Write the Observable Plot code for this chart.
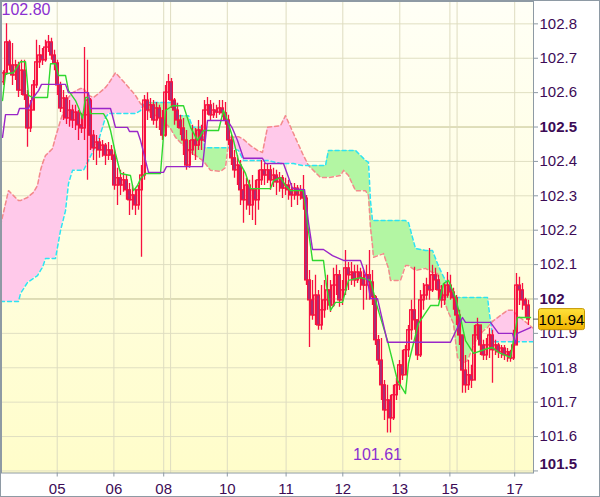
<!DOCTYPE html>
<html><head><meta charset="utf-8">
<script src="https://cdn.jsdelivr.net/npm/d3@7"></script>
<script src="https://cdn.jsdelivr.net/npm/@observablehq/plot@0.6"></script>
<style>
html,body{margin:0;padding:0;background:#fff;}
svg{display:block;}
</style></head><body><div id="chart"></div>
<script>
// ---- candle data (one value per bar) ----
const firstOpen = 102.630;
const close = [
102.656,102.746,102.679,102.650,102.679,102.606,102.664,102.592,102.496,102.548,
102.621,102.688,102.708,102.694,102.731,102.746,102.708,102.685,102.621,102.554,
102.583,102.525,102.548,102.519,102.542,102.505,102.496,102.534,102.577,102.475,
102.438,102.455,102.432,102.446,102.417,102.432,102.417,102.330,102.351,102.330,
102.345,102.316,102.287,102.301,102.272,102.316,102.359,102.577,102.548,102.563,
102.519,102.554,102.525,102.475,102.600,102.630,102.577,102.548,102.519,102.496,
102.461,102.388,102.432,102.461,102.446,102.490,102.461,102.548,102.563,102.534,
102.548,102.542,102.554,102.540,102.519,102.461,102.409,102.374,102.388,102.316,
102.287,102.330,102.272,102.316,102.287,102.345,102.374,102.359,102.374,102.345,
102.359,102.339,102.351,102.321,102.330,102.316,102.301,102.321,102.301,102.316,
102.292,102.054,101.996,101.952,102.010,101.923,101.967,101.996,102.025,101.981,
102.039,102.069,101.996,102.025,102.089,102.069,102.077,102.054,102.077,102.060,
102.039,102.069,102.048,102.005,101.880,101.821,101.749,101.676,101.705,101.653,
101.720,101.749,101.807,101.778,101.851,101.909,101.967,101.938,101.836,101.996,
102.010,102.039,102.025,102.069,102.054,102.025,101.996,102.010,102.039,102.019,
102.002,101.952,101.894,101.792,101.749,101.778,101.763,101.894,101.923,101.865,
101.836,101.865,101.894,101.851,101.865,101.845,101.856,101.836,101.845,101.827,
101.865,102.039,102.025,101.996,101.981,101.940];
const high = [
102.664,102.800,102.752,102.743,102.694,102.688,102.694,102.694,102.606,102.577,
102.635,102.752,102.737,102.728,102.752,102.766,102.758,102.723,102.694,102.630,
102.606,102.592,102.577,102.563,102.563,102.548,102.540,102.731,102.694,102.583,
102.490,102.475,102.467,102.461,102.452,102.455,102.446,102.432,102.380,102.374,
102.368,102.359,102.336,102.330,102.321,102.330,102.388,102.592,102.600,102.583,
102.577,102.571,102.563,102.548,102.621,102.653,102.641,102.583,102.569,102.534,
102.525,102.490,102.461,102.505,102.496,102.519,102.505,102.577,102.586,102.577,
102.569,102.563,102.577,102.577,102.571,102.534,102.475,102.432,102.417,102.403,
102.374,102.351,102.345,102.359,102.345,102.374,102.403,102.394,102.394,102.388,
102.380,102.374,102.368,102.359,102.351,102.345,102.336,102.336,102.330,102.330,
102.359,102.301,102.083,102.054,102.069,102.025,102.039,102.054,102.069,102.054,
102.089,102.098,102.083,102.054,102.141,102.106,102.106,102.098,102.098,102.089,
102.083,102.098,102.141,102.083,102.010,101.894,101.885,101.763,101.749,101.720,
101.749,101.769,101.821,101.851,101.865,101.923,101.996,102.092,101.938,102.025,
102.045,102.060,102.147,102.098,102.089,102.069,102.039,102.045,102.077,102.069,
102.031,102.010,101.967,101.894,101.836,101.821,101.807,101.923,101.944,101.923,
101.880,101.885,101.915,101.909,101.880,101.871,101.865,101.865,101.856,101.851,
101.909,102.074,102.063,102.045,102.002,101.996];
const low = [
102.621,102.650,102.664,102.621,102.635,102.586,102.592,102.577,102.441,102.484,
102.548,102.612,102.670,102.679,102.688,102.717,102.694,102.664,102.592,102.542,
102.519,102.507,102.499,102.496,102.490,102.461,102.481,102.461,102.345,102.432,
102.403,102.388,102.409,102.412,102.388,102.403,102.403,102.316,102.272,102.301,
102.310,102.287,102.243,102.258,102.243,102.258,102.121,102.345,102.519,102.525,
102.505,102.496,102.490,102.461,102.470,102.577,102.554,102.505,102.496,102.475,
102.417,102.374,102.380,102.417,102.403,102.432,102.432,102.455,102.534,102.519,
102.525,102.525,102.534,102.528,102.505,102.446,102.388,102.351,102.330,102.272,
102.220,102.258,102.243,102.228,102.214,102.258,102.330,102.330,102.336,102.316,
102.324,102.301,102.310,102.292,102.301,102.287,102.266,102.287,102.272,102.287,
102.258,102.039,101.859,101.938,101.923,101.909,101.909,101.944,101.967,101.961,
101.975,102.010,101.976,101.981,102.010,102.025,102.039,102.034,102.045,102.025,
101.967,101.996,101.996,101.981,101.865,101.807,101.705,101.647,101.610,101.610,
101.647,101.705,101.734,101.763,101.787,101.830,101.880,101.909,101.821,101.830,
101.967,101.996,101.996,102.019,102.025,101.996,101.973,101.981,102.002,101.996,
101.967,101.923,101.865,101.726,101.726,101.734,101.740,101.763,101.880,101.836,
101.821,101.821,101.827,101.755,101.836,101.827,101.827,101.821,101.816,101.816,
101.821,101.865,101.981,101.967,101.944,101.923];

// ---- conversion line (green) and base line (purple): [bar index, price] ----
const tenkan = [[-0.33,102.577],[0.67,102.655],[3.33,102.658],[5.67,102.690],[7.33,102.690],[8.33,102.592],[9.67,102.586],[14.67,102.586],[15.67,102.684],[17.33,102.684],[18.33,102.650],[20.67,102.650],[21.67,102.606],[24,102.577],[25,102.557],[26.33,102.525],[27.33,102.586],[28.33,102.586],[29,102.539],[33.33,102.539],[34.67,102.519],[35.67,102.490],[37.33,102.423],[39,102.365],[42.33,102.359],[43.33,102.315],[44.67,102.330],[45.67,102.350],[47.33,102.365],[52.33,102.365],[54,102.548],[56.33,102.562],[60,102.562],[62.33,102.499],[64.67,102.461],[65.67,102.475],[66.67,102.490],[71.67,102.490],[73.33,102.548],[74.67,102.519],[76.67,102.461],[78.33,102.403],[80.67,102.365],[82.33,102.321],[89,102.321],[90,102.344],[92.33,102.353],[94,102.330],[95.67,102.315],[100,102.315],[101.33,102.219],[103,102.112],[106.67,102.112],[107.67,102.039],[109,101.967],[110.67,101.990],[113,101.990],[115,102.054],[119,102.062],[122.33,102.054],[124.67,101.975],[128,101.879],[131.33,101.763],[134,101.725],[135,101.813],[138.33,101.929],[142.33,101.981],[145,101.981],[146.67,102.045],[148.33,102.054],[150.67,102.004],[152.33,101.946],[154,101.879],[156.67,101.842],[161.33,101.856],[163,101.859],[165,101.845],[169,101.830],[170,101.879],[171.33,101.946],[175.67,101.946]];
const kijun = [[-0.33,102.470],[0.67,102.536],[4.67,102.536],[5.33,102.554],[8.33,102.554],[9.67,102.583],[11.67,102.606],[12.67,102.624],[20.67,102.624],[21.67,102.600],[28.33,102.600],[29,102.554],[35.67,102.554],[37.33,102.499],[41.33,102.499],[42,102.487],[44.67,102.487],[45.67,102.461],[48.33,102.368],[53.33,102.368],[54.33,102.385],[66.33,102.385],[68,102.519],[74.67,102.519],[76.33,102.496],[78,102.461],[80,102.409],[86.33,102.409],[87.33,102.394],[93.33,102.394],[96.33,102.321],[100.33,102.318],[101.67,102.222],[103,102.144],[106.67,102.144],[109.67,102.126],[113.33,102.112],[119,102.112],[121.33,102.054],[122.33,102.001],[124.67,102.001],[128,101.874],[149,101.874],[151.67,101.923],[153,101.946],[154,101.932],[162.33,101.932],[165,101.900],[169.67,101.900],[170.67,101.871],[171.33,101.900],[175.67,101.917]];

// ---- cloud: [bar index, span A (red dashed), span B (cyan dashed)] ----
const cloud = [[-1,102.214,101.993],[1.67,102.315,101.993],[5,102.286,101.993],[5.67,102.286,102.016],[8,102.295,102.048],[10,102.310,102.060],[11.33,102.330,102.068],[12.33,102.374,102.083],[13,102.394,102.092],[14,102.417,102.118],[16.33,102.437,102.118],[17.33,102.470,102.118],[19,102.519,102.199],[20.67,102.562,102.257],[21.67,102.586,102.336],[23,102.600,102.374],[25.67,102.612,102.374],[26.67,102.612,102.374],[28.33,102.592,102.403],[30,102.586,102.432],[31.67,102.597,102.461],[34,102.615,102.528],[35,102.626,102.539],[37.33,102.658,102.539],[40.67,102.626,102.539],[44,102.592,102.539],[45.67,102.568,102.548],[46.67,102.560,102.565],[48,102.548,102.571],[52.33,102.525,102.571],[55.67,102.496,102.571],[57.33,102.470,102.571],[58.33,102.461,102.533],[61.67,102.432,102.533],[63,102.423,102.499],[66.33,102.403,102.499],[67,102.397,102.440],[69,102.374,102.440],[72.33,102.371,102.440],[74,102.382,102.440],[74.67,102.432,102.440],[75.67,102.470,102.440],[78.33,102.472,102.432],[80,102.464,102.403],[82.33,102.446,102.403],[84.67,102.432,102.403],[86.33,102.426,102.403],[88,102.499,102.403],[92.33,102.504,102.394],[94,102.533,102.394],[96.67,102.481,102.394],[99.67,102.423,102.388],[101.67,102.388,102.388],[105.67,102.353,102.388],[107.33,102.353,102.388],[108.33,102.353,102.432],[112.33,102.359,102.432],[113.33,102.374,102.432],[115,102.359,102.432],[117.33,102.315,102.432],[120.67,102.315,102.403],[121.67,102.301,102.397],[122.33,102.208,102.286],[123,102.155,102.228],[123.33,102.121,102.228],[126.67,102.132,102.228],[128.33,102.089,102.228],[129,102.054,102.228],[132.33,102.054,102.228],[134,102.097,102.228],[135,102.097,102.222],[137.33,102.083,102.147],[140.67,102.089,102.141],[143,102.077,102.141],[144.67,102.074,102.103],[145.67,102.039,102.083],[146.67,102.004,102.065],[148,101.967,102.045],[150,101.929,102.004],[151.33,101.830,102.004],[153,101.813,102.004],[154.67,101.821,102.004],[156.33,101.859,102.004],[158,101.888,102.004],[160,101.908,102.004],[161.33,101.917,102.004],[162.33,101.929,101.935],[163.33,101.937,101.876],[165.67,101.952,101.876],[168,101.967,101.876],[169.67,101.967,101.876],[171.33,101.952,101.876],[174.67,101.929,101.876],[176.67,101.914,101.876]];

// ---- axes ----
const dayTickIdx = [17.9, 36.8, 53.4, 74.6, 94.2, 113.1, 132.1, 148.8, 170.4];
const dayTickLabels = ["05","06","08","10","11","12","13","15","17"];
const weekGridIdx = [55.7, 151.2];
const priceTicks = [101.5,101.6,101.7,101.8,101.9,102,102.1,102.2,102.3,102.4,102.5,102.6,102.7,102.8];
const boldTicks = [102, 102.5];
const bottomTick = [101.5];

const candles = close.map((c, i) => ({i, open: i === 0 ? firstOpen : close[i-1], close: c, high: high[i], low: low[i]}));
const dayLabel = new Map(dayTickIdx.map((d, k) => [d, dayTickLabels[k]]));
const normalTicks = priceTicks.filter(t => !boldTicks.includes(t) && !bottomTick.includes(t));
const maxHigh = d3.max(high);
const minBar = candles[d3.minIndex(candles, d => d.low)];
const lastClose = close[close.length - 1];

const RED = "#f7103f", LBL = "#3c0b56", AX = "#8e9aa4";

const chart = Plot.plot({
  width: 600, height: 497,
  marginTop: 1, marginBottom: 24.5, marginLeft: 1, marginRight: 67,
  style: {fontFamily: "'Liberation Sans', Arial, sans-serif", fontSize: "15px", background: "#fff"},
  x: {domain: [-0.67, 176.67], label: null},
  y: {domain: [101.494, 102.865], label: null},
  marks: [
    Plot.frame({fill: "url(#bgGrad)", stroke: "none"}),
    Plot.gridY(priceTicks, {stroke: "#e0dfc2", strokeOpacity: 1}),
    Plot.gridY(boldTicks, {stroke: "#cfcd9e", strokeOpacity: 1}),
    Plot.gridX([...dayTickIdx, ...weekGridIdx], {stroke: "#dedcc0", strokeOpacity: 1}),
    Plot.areaY(cloud, {x: d => d[0], y1: d => d[2], y2: d => Math.max(d[1], d[2]), fill: "#ffc9ea", clip: true}),
    Plot.areaY(cloud, {x: d => d[0], y1: d => d[1], y2: d => Math.max(d[1], d[2]), fill: "#b3f6a3", clip: true}),
    Plot.line(cloud, {x: d => d[0], y: d => d[1], stroke: "#f38a8a", strokeWidth: 1.5, strokeDasharray: "4,3", clip: true}),
    Plot.line(cloud, {x: d => d[0], y: d => d[2], stroke: "#2ee3f2", strokeWidth: 1.5, strokeDasharray: "4,3", clip: true}),
    Plot.ruleX(candles, {x: "i", y1: d => Math.min(d.low, d.open, d.close), y2: d => Math.max(d.high, d.open, d.close), stroke: RED, strokeWidth: 1.3, clip: true}),
    Plot.rect(candles.filter(d => d.close >= d.open), {x1: d => d.i - 0.45, x2: d => d.i + 0.45, y1: "open", y2: "close", fill: "none", stroke: RED, strokeWidth: 1.3, clip: true}),
    Plot.rect(candles.filter(d => d.close < d.open), {x1: d => d.i - 0.45, x2: d => d.i + 0.45, y1: "open", y2: "close", fill: "#8a3a8c", stroke: RED, strokeWidth: 1.3, clip: true}),
    Plot.line(tenkan, {x: d => d[0], y: d => d[1], stroke: "#2fd82f", strokeWidth: 1.4, clip: true}),
    Plot.line(kijun, {x: d => d[0], y: d => d[1], stroke: "#9a26c8", strokeWidth: 1.4, clip: true}),
    Plot.text([maxHigh], {frameAnchor: "top-left", text: d => d.toFixed(2), dx: 0, dy: 2, fill: "#8b2fd0", fontSize: 16}),
    Plot.text([minBar], {x: "i", y: "low", text: d => d.low.toFixed(2), dx: -10, dy: 22, fill: "#8b2fd0", fontSize: 16}),
    Plot.frame({stroke: AX}),
    Plot.axisY(normalTicks, {anchor: "right", tickSize: 4, tickPadding: 2, stroke: AX, fill: LBL, fontSize: 15, tickFormat: d => String(d)}),
    Plot.axisY(boldTicks, {anchor: "right", tickSize: 4, tickPadding: 2, stroke: AX, fill: LBL, fontSize: 15, fontWeight: "bold", tickFormat: d => String(d)}),
    Plot.axisY(bottomTick, {anchor: "right", tickSize: 4, stroke: AX, tickFormat: () => ""}),
    Plot.axisY(bottomTick, {anchor: "right", tickSize: 0, tickPadding: 6, dy: -7, fill: LBL, fontSize: 15, fontWeight: "bold", tickFormat: d => String(d)}),
    Plot.axisX(dayTickIdx, {anchor: "bottom", tickSize: 4, tickPadding: 6, stroke: AX, fill: LBL, fontSize: 15, tickFormat: d => dayLabel.get(d)})
  ]
});

const svg = d3.select(chart);
svg.insert("defs", ":first-child").html(
  '<linearGradient id="bgGrad" x1="0" y1="0" x2="0" y2="1"><stop offset="0" stop-color="#fffff6"/><stop offset="1" stop-color="#fffdca"/></linearGradient>' +
  '<linearGradient id="tagGrad" x1="0" y1="0" x2="0" y2="1"><stop offset="0" stop-color="#ffe23a"/><stop offset="1" stop-color="#f1b400"/></linearGradient>');
const yLast = chart.scale("y").apply(lastClose);
svg.append("line").attr("x1", 533).attr("x2", 539).attr("y1", yLast).attr("y2", yLast).attr("stroke", "#555");
svg.append("rect").attr("x", 538.5).attr("y", yLast - 10.5).attr("width", 46).attr("height", 21).attr("rx", 2)
  .attr("fill", "url(#tagGrad)").attr("stroke", "#c49500");
svg.append("text").attr("x", 561.5).attr("y", yLast).attr("dy", "0.36em").attr("text-anchor", "middle")
  .attr("font-size", 15).attr("fill", "#000").text(lastClose.toFixed(2));
svg.append("rect").attr("x", 0.5).attr("y", 0.5).attr("width", 599).attr("height", 496)
  .attr("fill", "none").attr("stroke", AX);
document.getElementById("chart").appendChild(chart);
</script></body></html>
